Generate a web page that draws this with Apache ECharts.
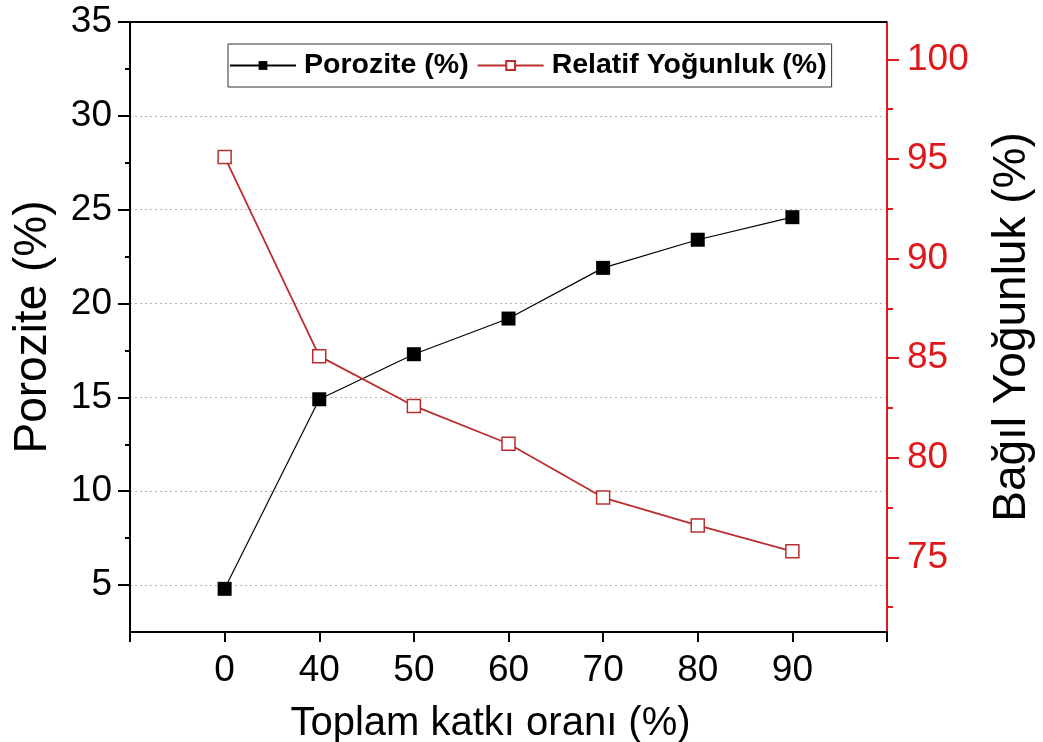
<!DOCTYPE html>
<html>
<head>
<meta charset="utf-8">
<script src="https://cdn.jsdelivr.net/npm/echarts@6/dist/echarts.min.js"></script>
<style>
  html, body { margin: 0; padding: 0; background: #fff; }
  #chart { width: 1043px; height: 742px; }
</style>
</head>
<body>
<div id="chart"></div>
<script>
// x categories (empty slot at each end, like the original frame)
const categories = ['', '0', '40', '50', '60', '70', '80', '90', '']
const porozite = [null, 4.8, 14.9, 17.3, 19.2, 21.9, 23.4, 24.6, null]
const relatifYogunluk = [null, 95.1, 85.1, 82.6, 80.7, 78.0, 76.6, 75.3, null]

// tick labels
const leftMajor = [5, 10, 15, 20, 25, 30, 35]
const leftMinor = [7.5, 12.5, 17.5, 22.5, 27.5, 32.5]
const rightMajor = [75, 80, 85, 90, 95, 100]
const rightMinor = [72.5, 77.5, 82.5, 87.5, 92.5, 97.5]

const font = 'Liberation Sans, Arial, sans-serif'
const red = '#e0181c'
const lineRed = '#bb2e2e'

const chart = echarts.init(document.getElementById('chart'))
const option = {
  animation: false,
  backgroundColor: '#fff',
  grid: { left: 130, right: 156, top: 22, bottom: 110, outerBoundsMode: 'none', containLabel: false },
  legend: {
    top: 44,
    left: 228,
    itemWidth: 66,
    itemHeight: 11,
    itemGap: 8,
    padding: [7, 5, 7, 1],
    borderColor: '#333',
    borderWidth: 1,
    textStyle: { fontFamily: font, fontSize: 28.5, fontWeight: 'bold', color: '#000', padding: [0, 0, 0, 3] },
    data: ['Porozite (%)', 'Relatif Yoğunluk (%)']
  },
  xAxis: {
    type: 'category',
    data: categories,
    boundaryGap: false,
    name: 'Toplam katkı oranı (%)',
    nameLocation: 'middle',
    nameGap: 72,
    nameTextStyle: { fontFamily: font, fontSize: 40, color: '#000', padding: [0, 36, 0, 0] },
    axisLine: { lineStyle: { color: '#000', width: 2 } },
    axisTick: { show: true, length: 10, alignWithLabel: true, lineStyle: { color: '#000', width: 2 } },
    axisLabel: { interval: 0, margin: 20, fontFamily: font, fontSize: 37, color: '#000' },
    splitLine: { show: false }
  },
  yAxis: [
    {
      type: 'value',
      min: 2.5,
      max: 35,
      interval: 2.5,
      name: 'Porozite (%)',
      nameLocation: 'middle',
      nameGap: 74,
      nameTextStyle: { fontFamily: font, fontSize: 46, color: '#000' },
      axisLine: { show: true, lineStyle: { color: '#000', width: 2 } },
      axisTick: { show: true, length: 12, customValues: leftMajor, lineStyle: { color: '#000', width: 2 } },
      axisLabel: { margin: 18, fontFamily: font, fontSize: 37, color: '#000', customValues: leftMajor },
      splitLine: { show: true, lineStyle: { color: '#b5b5b5', type: [2, 3], width: 1 } }
    },
    {
      type: 'value',
      min: 71.25,
      max: 101.875,
      position: 'right',
      name: 'Bağıl Yoğunluk (%)',
      nameLocation: 'middle',
      nameGap: 102,
      nameRotate: 90,
      nameTextStyle: { fontFamily: font, fontSize: 46, color: '#000' },
      axisLine: { show: true, lineStyle: { color: red, width: 2 } },
      axisTick: { show: true, length: 12, customValues: rightMajor, lineStyle: { color: red, width: 2 } },
      axisLabel: { margin: 20, fontFamily: font, fontSize: 37, color: red, customValues: rightMajor },
      splitLine: { show: false }
    },
    {
      // minor ticks, left
      type: 'value',
      min: 2.5,
      max: 35,
      position: 'left',
      axisLine: { show: false },
      axisTick: { show: true, length: 5, customValues: leftMinor, lineStyle: { color: '#000', width: 2 } },
      axisLabel: { show: false },
      splitLine: { show: false }
    },
    {
      // minor ticks, right
      type: 'value',
      min: 71.25,
      max: 101.875,
      position: 'right',
      axisLine: { show: false },
      axisTick: { show: true, length: 6, customValues: rightMinor, lineStyle: { color: red, width: 2 } },
      axisLabel: { show: false },
      splitLine: { show: false }
    }
  ],
  series: [
    {
      name: 'Porozite (%)',
      type: 'line',
      yAxisIndex: 0,
      data: porozite,
      symbol: 'rect',
      symbolSize: 14,
      itemStyle: { color: '#000' },
      lineStyle: { color: '#000', width: 1.2 },
      z: 3
    },
    {
      name: 'Relatif Yoğunluk (%)',
      type: 'line',
      yAxisIndex: 1,
      data: relatifYogunluk,
      symbol: 'rect',
      symbolSize: 13,
      itemStyle: { color: '#fff', borderColor: lineRed, borderWidth: 1.5 },
      lineStyle: { color: lineRed, width: 1.8 },
      z: 4
    }
  ],
  graphic: [
    {
      type: 'line',
      shape: { x1: 130, y1: 22, x2: 887, y2: 22 },
      style: { stroke: '#000', lineWidth: 2 },
      z: 10
    }
  ]
}
chart.setOption(option)
</script>
</body>
</html>
